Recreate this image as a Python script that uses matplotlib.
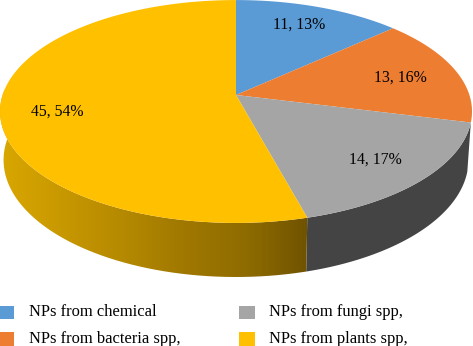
import numpy as np
import matplotlib

matplotlib.use("Agg")
import matplotlib.pyplot as plt
from matplotlib.patches import Patch, PathPatch, Rectangle
from matplotlib.path import Path
from matplotlib.colors import LinearSegmentedColormap
from matplotlib.legend_handler import HandlerPatch

plt.rcParams["font.family"] = ["Liberation Serif", "DejaVu Serif"]

names = ["NPs from chemical", "NPs from bacteria spp,", "NPs from fungi spp,", "NPs from plants spp,"]
counts = [11, 13, 14, 45]
percents = [13, 16, 17, 54]
colors = ["#5b9bd5", "#ed7d31", "#a5a5a5", "#ffc000"]

# perspective pie, fitted on the picture (pixels)
CX, CY = 236, 95
RX, RY = 233.4, 109
K = 0.148
DEPTH = 47.7
BOTTOM_SCALE = 0.985  # lower rim is a bit smaller, further from the eye


def project(theta, depth=0.0, scale=1.0):
    # theta in radians, clockwise from 12 o'clock
    x, y = np.sin(theta), np.cos(theta)
    w = 1 + K * y
    return CX + scale * RX * x / w, CY - scale * RY * y / w + depth / w


def wall(a0, a1):
    t = np.linspace(a0, a1, 200)
    xt, yt = project(t)
    xb, yb = project(t[::-1], DEPTH, BOTTOM_SCALE)
    return np.r_[xt, xb], np.r_[yt, yb]


def low_square(legend, orig_handle, xdescent, ydescent, width, height, fontsize):
    # legend squares sit a little under the text centre
    return Rectangle((-xdescent, -ydescent - 1.5), width, height)


fig = plt.figure(figsize=(4.73, 3.46), dpi=100, facecolor="white")
ax = fig.add_axes([0, 0, 1, 1])

edges = np.cumsum([0] + counts) / sum(counts) * 2 * np.pi

# side wall: grey slice flat, plants slice shaded from left to right
xs, ys = wall(edges[2], edges[3])
ax.fill(xs, ys, color="#444444", lw=0, zorder=1)

yellow_side = LinearSegmentedColormap.from_list(
    "side", ["#d9a700", "#c89800", "#b58900", "#a07800", "#8f6c00", "#705300"])
xs, ys = wall(edges[3], 3 * np.pi / 2 + 0.35)
x_split = project(edges[3])[0]
ramp = np.linspace(0, 1, 300)[None, :]
im = ax.imshow(ramp, cmap=yellow_side, extent=(0, x_split, 300, 90), aspect="auto", zorder=1)
clip = PathPatch(Path(np.c_[xs, ys]), transform=ax.transData, fc="none", ec="none")
ax.add_patch(clip)
im.set_clip_path(clip)

# top face
for i, col in enumerate(colors):
    t = np.linspace(edges[i], edges[i + 1], 200)
    xs, ys = project(t)
    ax.fill(np.r_[CX, xs], np.r_[CY, ys], color=col, lw=0, zorder=2)

label_pos = [(299, 25), (400, 78), (375, 160), (57, 112)]
for (lx, ly), n, p in zip(label_pos, counts, percents):
    ax.text(lx, ly, f"{n}, {p}%", ha="center", va="center", fontsize=11.4, color="black", zorder=3)

handles = [Patch(facecolor=c, edgecolor="none") for c in colors]
ax.legend(handles, names, ncol=2, loc="lower left", bbox_to_anchor=(-0.002, -0.003),
          frameon=False, fontsize=11.9, handlelength=0.92, handleheight=0.92,
          handletextpad=0.9, columnspacing=3.55, labelspacing=0.62, borderpad=0, borderaxespad=0,
          handler_map={Patch: HandlerPatch(patch_func=low_square)})

ax.set_xlim(0, 473)
ax.set_ylim(346, 0)
ax.axis("off")

fig.savefig("out.png", dpi=100)
